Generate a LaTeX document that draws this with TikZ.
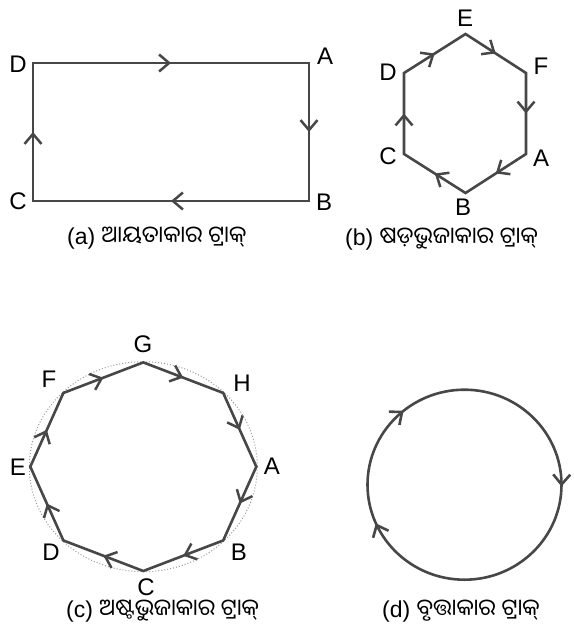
\documentclass[tikz,border=0pt]{standalone}
\usepackage{fontspec}
\setmainfont{Liberation Sans}
\newfontfamily\odia[Script=Oriya]{Noto Sans Oriya UI}
\usetikzlibrary{arrows.meta,decorations.markings}

\colorlet{trackgray}{black!72}
\tikzset{
  track/.style={draw=trackgray,line width=2.6pt,line join=miter},
  barbmid/.style={color=trackgray,line width=2.5pt,postaction={decorate,
    decoration={markings,mark=at position #1 with {\arrow{>}}}}},
  barbmid/.default=0.5,
  lbl/.style={font=\fontsize{24}{24}\selectfont,inner sep=0pt},
  captxt/.style={font=\fontsize{23}{23}\selectfont,inner sep=0pt,anchor=base west},
}

\begin{document}
\begin{tikzpicture}[x=1pt,y=-1pt,>={Straight Barb[length=10pt,width=17pt]}]
  \useasboundingbox (0,0) rectangle (573,642);
  % (a) rectangulo
  \coordinate (rD) at (33,63);
  \coordinate (rA) at (309,63);
  \coordinate (rB) at (309,201);
  \coordinate (rC) at (33,201);
  \draw[track] (rD) -- (rA) -- (rB) -- (rC) -- cycle;
  \foreach \p/\q in {rD/rA,rA/rB,rB/rC,rC/rD}
    \path[barbmid] (\p) -- (\q);
  \node[lbl] (lrD) at (18,64) {D};
  \node[lbl] (lrA) at (325,56) {A};
  \node[lbl] (lrB) at (324,202) {B};
  \node[lbl] (lrC) at (18,201) {C};
  \node[captxt] (capa) at (67,244) {(a) {\odia ଆୟତାକାର ଟ୍ରାକ୍}};

  % (b) hexagono
  \coordinate (hE) at (465.5,34);
  \coordinate (hF) at (526,73);
  \coordinate (hA) at (526,154);
  \coordinate (hB) at (465.5,193);
  \coordinate (hC) at (404,154);
  \coordinate (hD) at (404,73);
  \draw[track] (hE) -- (hF) -- (hA) -- (hB) -- (hC) -- (hD) -- cycle;
  \foreach \p/\q in {hD/hE,hE/hF,hF/hA,hA/hB,hB/hC,hC/hD}
    \path[barbmid] (\p) -- (\q);
  \foreach \n/\x/\y in {E/465/18,F/541/66,A/541/158,B/463/207,C/388/156,D/388/72}
    \node[lbl] (lh\n) at (\x,\y) {\n};
  \node[captxt] (capb) at (345,245) {(b) {\odia ଷଡ଼ଭୁଜାକାର ଟ୍ରାକ୍}};

  % (c) octagono sobre elipse punteada
  \coordinate (oc) at (143.3,466.7);
  \draw[black!40,line width=1pt,dotted] (oc) ellipse [x radius=114,y radius=105];
  \foreach \n/\a in {A/0,B/45,C/90,D/135,E/180,F/225,G/270,H/315}
    \coordinate (o\n) at ([shift={(\a:113 and 104.3)}]oc);
  \draw[track] (oA) -- (oB) -- (oC) -- (oD) -- (oE) -- (oF) -- (oG) -- (oH) -- cycle;
  \foreach \p/\q in {oG/oH,oH/oA,oA/oB,oB/oC,oC/oD,oD/oE,oE/oF,oF/oG}
    \path[barbmid] (\p) -- (\q);
  \foreach \n/\x/\y in {G/143/344,H/242/383,A/272/466,B/239/552,C/146/587,D/51/552,E/18/467,F/49/379}
    \node[lbl] (lo\n) at (\x,\y) {\n};
  \node[captxt] (capc) at (66,617) {(c) {\odia ଅଷ୍ଟଭୁଜାକାର ଟ୍ରାକ୍}};

  % (d) circulo
  \coordinate (cc) at (464.5,484.7);
  \draw[track,postaction={decorate,decoration={markings,
      mark=at position 0.253 with {\arrow{>}},
      mark=at position 0.684 with {\arrow{>}},
      mark=at position 0.891 with {\arrow{>}}}}]
    ([shift={(-90:97 and 95)}]cc) arc[start angle=-90,end angle=270,x radius=97,y radius=95];
  \node[captxt] (capd) at (382,617) {(d) {\odia ବୃତ୍ତାକାର ଟ୍ରାକ୍}};
\end{tikzpicture}
\end{document}
